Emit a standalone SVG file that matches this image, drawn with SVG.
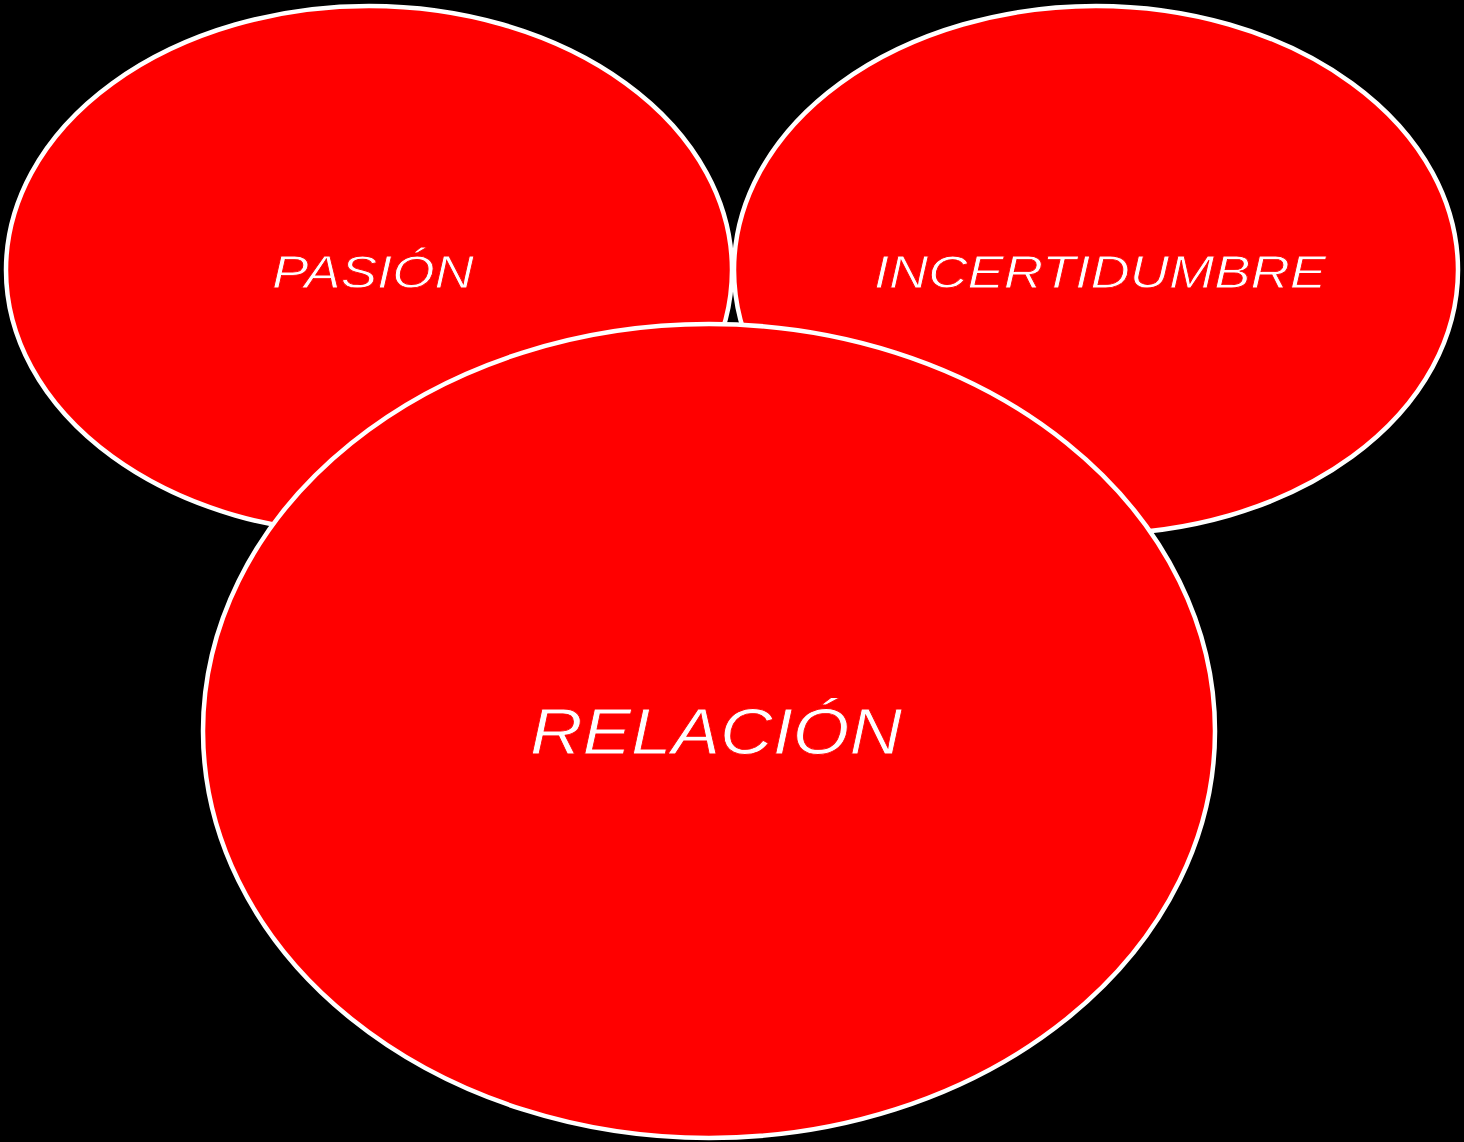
<svg xmlns="http://www.w3.org/2000/svg" width="1464" height="1142" viewBox="0 0 1464 1142">
<style>
.node{fill:#ff0000;stroke:#ffffff;stroke-width:4.5}
.lbl{fill:#ffffff;stroke:#ff0000;stroke-width:0.8;font-family:"Liberation Sans",Arial,sans-serif;font-style:italic;font-weight:normal}
</style>
<rect width="1464" height="1142" fill="#000000"/>
<g id="connectors"></g>
<g id="pasion">
<ellipse class="node" cx="369" cy="270" rx="363" ry="264"/>
<text class="lbl" x="272" y="288" font-size="46.5" textLength="202" lengthAdjust="spacingAndGlyphs">PASIÓN</text>
</g>
<g id="incertidumbre">
<ellipse class="node" cx="1096" cy="270" rx="362" ry="264"/>
<text class="lbl" x="874" y="288" font-size="46.5" textLength="452" lengthAdjust="spacingAndGlyphs">INCERTIDUMBRE</text>
</g>
<g id="relacion">
<ellipse class="node" cx="709" cy="731" rx="506" ry="407"/>
<text class="lbl" x="530" y="754" font-size="65" textLength="372" lengthAdjust="spacingAndGlyphs">RELACIÓN</text>
</g>
</svg>
